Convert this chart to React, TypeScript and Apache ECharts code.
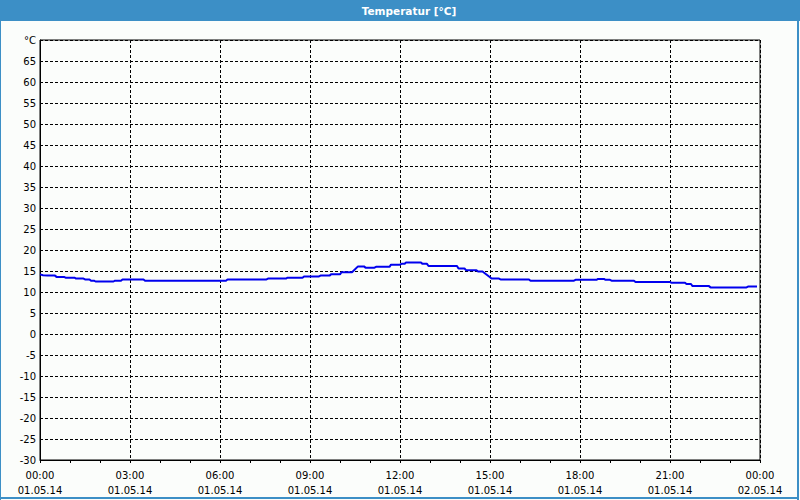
import React, { useEffect, useRef } from "react";
import * as echarts from "echarts";

const chartTitle = "Temperatur [°C]";
const yUnitLabel = "°C";

// time in hours since 01.05.14 00:00
const hours = [
  0, 0.1, 0.25, 0.5, 0.55, 0.8, 0.85, 1.15, 1.2, 1.45, 1.5, 1.65, 1.7, 1.8, 1.85, 2.45,
  2.5, 2.7, 2.75, 3.45, 3.5, 6.2, 6.25, 7.55, 7.6, 8.2, 8.25, 8.75, 8.8, 9.3, 9.35, 9.65,
  9.7, 10.0, 10.05, 10.4, 10.6, 10.8, 10.85, 11.15, 11.2, 11.65, 11.7, 12.0, 12.05, 12.15,
  12.2, 12.7, 12.75, 12.9, 12.95, 13.9, 13.95, 14.15, 14.2, 14.55, 14.6, 14.75, 15.0, 15.05,
  15.3, 15.35, 16.3, 16.35, 17.8, 17.85, 18.55, 18.6, 18.8, 18.85, 19.0, 19.05, 19.8, 19.85,
  21.0, 21.05, 21.5, 21.55, 21.7, 21.75, 22.3, 22.35, 23.55, 23.6, 23.9,
];
const temps = [
  14.2, 14.0, 13.9, 13.9, 13.6, 13.6, 13.4, 13.4, 13.2, 13.2, 13.0, 13.0, 12.7, 12.7, 12.5, 12.5,
  12.7, 12.7, 13.0, 13.0, 12.7, 12.7, 13.0, 13.0, 13.2, 13.2, 13.4, 13.4, 13.7, 13.7, 13.9, 13.9,
  14.2, 14.2, 14.7, 14.7, 16.1, 16.1, 15.8, 15.8, 16.0, 16.0, 16.5, 16.5, 16.7, 16.7,
  17.0, 17.0, 16.7, 16.7, 16.2, 16.2, 15.6, 15.6, 15.2, 15.2, 14.9, 14.9, 13.5, 13.2,
  13.2, 13.0, 13.0, 12.7, 12.7, 12.9, 12.9, 13.1, 13.1, 12.9, 12.9, 12.7, 12.7, 12.4,
  12.4, 12.2, 12.2, 11.9, 11.9, 11.4, 11.4, 11.1, 11.1, 11.3, 11.3,
];

const xTickHours = [0, 3, 6, 9, 12, 15, 18, 21, 24];
const xTickTimes = ["00:00", "03:00", "06:00", "09:00", "12:00", "15:00", "18:00", "21:00", "00:00"];
const xTickDates = ["01.05.14", "01.05.14", "01.05.14", "01.05.14", "01.05.14", "01.05.14", "01.05.14", "01.05.14", "02.05.14"];

export default function App() {
  const ref = useRef<HTMLDivElement>(null);
  useEffect(() => {
    document.body.style.margin = "0";
    const chart = echarts.init(ref.current!, undefined, { renderer: "svg" });
    const blue = "#3c8fc6";
    const font = "DejaVu Sans";
    chart.setOption({
      animation: false,
      backgroundColor: "#fbfdfb",
      textStyle: { fontFamily: font },
      graphic: [
        { type: "rect", shape: { x: 0, y: 0, width: 800, height: 21 }, style: { fill: blue } },
        { type: "rect", shape: { x: 0, y: 0, width: 1, height: 500 }, style: { fill: blue } },
        { type: "rect", shape: { x: 797, y: 0, width: 2, height: 500 }, style: { fill: blue } },
        { type: "rect", shape: { x: 0, y: 497, width: 799, height: 2 }, style: { fill: blue } },
        {
          type: "text",
          x: 409,
          y: 11,
          style: {
            text: chartTitle,
            fill: "#ffffff",
            font: `bold 10.5px "${font}"`,
            textAlign: "center",
            textVerticalAlign: "middle",
          },
        },
      ],
      grid: {
        left: 40,
        right: 40,
        top: 40,
        bottom: 40,
        show: true,
        borderColor: "#000",
        borderWidth: 1,
        backgroundColor: "transparent",
      },
      xAxis: {
        type: "value",
        min: 0,
        max: 24,
        interval: 3,
        axisLine: { show: true, onZero: false, lineStyle: { color: "#000", width: 1 } },
        axisTick: { show: true, length: 3, lineStyle: { color: "#000" } },
        minorTick: { show: true, splitNumber: 3, length: 3, lineStyle: { color: "#000" } },
        splitLine: { show: true, lineStyle: { color: "#000", type: [3, 2], width: 1 } },
        axisLabel: {
          color: "#000",
          fontSize: 10,
          fontFamily: font,
          lineHeight: 15,
          margin: 8,
          formatter: (v: number) => {
            const i = xTickHours.indexOf(v);
            return i >= 0 ? `${xTickTimes[i]}\n${xTickDates[i]}` : "";
          },
        },
      },
      yAxis: {
        type: "value",
        min: -30,
        max: 70,
        interval: 5,
        axisLine: { show: true, onZero: false, lineStyle: { color: "#000", width: 1 } },
        axisTick: { show: false },
        splitLine: { show: true, lineStyle: { color: "#000", type: [3, 2], width: 1 } },
        axisLabel: {
          color: "#000",
          fontSize: 10,
          fontFamily: font,
          margin: 4,
          formatter: (v: number) => (v === 70 ? yUnitLabel : String(v)),
        },
      },
      series: [
        {
          type: "line",
          data: hours.map((h, i) => [h, temps[i]]),
          showSymbol: false,
          symbol: "none",
          lineStyle: { color: "#0000ee", width: 2 },
          itemStyle: { color: "#0000ee" },
        },
      ],
    });
    return () => chart.dispose();
  }, []);
  return <div ref={ref} style={{ position: "fixed", left: 0, top: 0, width: 800, height: 500 }} />;
}
